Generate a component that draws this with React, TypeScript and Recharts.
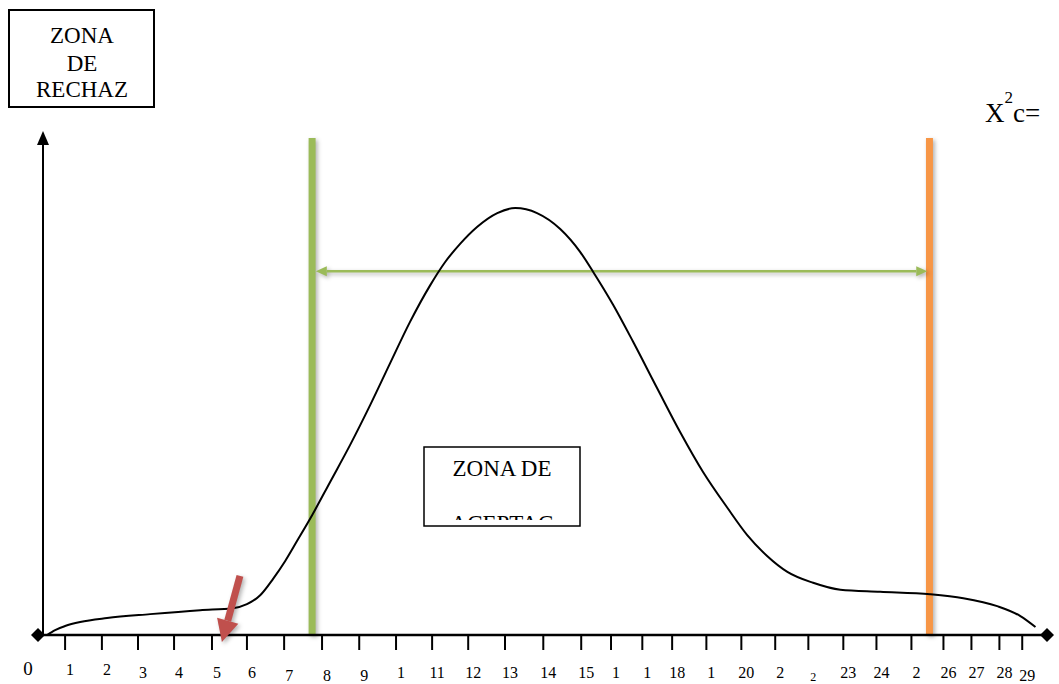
import { ComposedChart, Line, XAxis, YAxis, ReferenceLine } from "recharts";

// Chi-square sketch: position on the axis vs. relative height (0-100)
const CURVE_X = [
  0.11, 0.33, 0.6, 1.01, 1.74, 2.91, 4.27, 5.16, 5.54, 5.9, 6.25, 6.58, 6.9, 7.31, 7.8, 8.34,
  8.89, 9.43, 9.97, 10.52, 10.92, 11.33, 11.79, 12.34, 12.83, 13.42, 14.05, 14.59, 14.95,
  15.49, 16.03, 16.68, 17.31, 17.93, 18.59, 19.13, 19.67, 20.22, 20.92, 21.66, 22.74, 24.1,
  25.0, 25.92, 26.55, 26.96,
];
const CURVE_Y = [
  0, 1.0, 1.8, 2.6, 3.4, 4.2, 5.0, 5.4, 6.2, 8.0, 11.3, 14.9, 18.9, 24.1, 30.8, 38.2,
  46.3, 54.7, 63.0, 70.4, 75.0, 78.7, 82.1, 84.9, 85.9, 84.9, 81.7, 77.1, 73.0,
  66.4, 59.0, 49.7, 40.8, 32.8, 25.6, 20.1, 15.9, 12.7, 10.5, 9.1, 8.7, 8.2,
  7.4, 5.8, 3.8, 1.6,
];

// hand-placed tick marks along the axis and the labels printed under them
const TICKS = [
  0.6, 1.6, 2.58, 3.56, 4.59, 5.54, 6.55, 7.58, 8.59, 9.59, 10.57, 11.55, 12.55, 13.59, 14.62,
  15.43, 16.28, 17.09, 18.02, 18.97, 19.89, 20.79, 21.74, 22.64, 23.59, 24.46, 25.22, 25.98, 26.6,
];
const TICK_LABELS = [
  "1", "2", "3", "4", "5", "6", "7", "8", "9", "1", "11", "12", "13", "14", "15",
  "1", "1", "18", "1", "20", "2", "2", "23", "24", "2", "26", "27", "28", "29",
];

// critical values and the acceptance arrow
const LOWER_CRIT = 7.31;
const UPPER_CRIT = 24.08;
const ARROW_LEVEL = 73.2;
const ARROW_FROM = 7.41;
const ARROW_TO = 24.02;
// red pointer to the computed statistic
const POINTER_START = { x: 5.35, y: 11.9 };
const POINTER_TIP = { x: 4.86, y: -1.4 };

const X_MAX = 27.3;
const SERIF = '"Liberation Serif", "Times New Roman", serif';
const GREEN = "#9BBB59";
const ORANGE = "#F79646";
const RED = "#C0504D";
const SHADOW = "drop-shadow(2px 2px 2px rgba(0,0,0,0.3))";

const data = CURVE_X.map((x, i) => ({ x, y: CURVE_Y[i] }));

function TickLabel({ x, y, index }: any) {
  let drop = 0;
  let size = 16;
  if (index <= 1) drop = -3;
  if ([6, 7, 8, 28].includes(index)) drop = 3;
  if (index === 21) {
    drop = 3;
    size = 12;
  }
  return (
    <text
      x={x + 5}
      y={y + 26 + drop}
      textAnchor="middle"
      fontSize={size}
      fill="#000"
      style={{ fontFamily: SERIF }}
    >
      {TICK_LABELS[index]}
    </text>
  );
}

function Bar({ x1, y1, x2, y2, color }: any) {
  return <line x1={x1} y1={y1} x2={x2} y2={y2} stroke={color} strokeWidth={7} style={{ filter: SHADOW }} />;
}

function DoubleArrow({ x1, y1, x2 }: any) {
  const left = Math.min(x1, x2);
  const right = Math.max(x1, x2);
  const head = 11;
  const half = 5;
  return (
    <g style={{ filter: SHADOW }} fill={GREEN}>
      <line x1={left + head} y1={y1} x2={right - head} y2={y1} stroke={GREEN} strokeWidth={2.5} />
      <polygon points={`${left},${y1} ${left + head},${y1 - half} ${left + head},${y1 + half}`} />
      <polygon points={`${right},${y1} ${right - head},${y1 - half} ${right - head},${y1 + half}`} />
    </g>
  );
}

function YAxisArrow({ x1, y1, y2 }: any) {
  const top = Math.min(y1, y2);
  const bottom = Math.max(y1, y2);
  return (
    <g>
      <line x1={x1} y1={bottom} x2={x1} y2={top + 4} stroke="#000" strokeWidth={2} />
      <polygon points={`${x1},${top - 7} ${x1 - 6},${top + 7} ${x1 + 6},${top + 7}`} fill="#000" />
    </g>
  );
}

function XAxisLine({ x1, x2, y1 }: any) {
  const left = Math.min(x1, x2) - 5;
  const right = Math.max(x1, x2) - 1;
  const d = 7;
  const diamond = (cx: number) => `${cx},${y1 - d} ${cx + d},${y1} ${cx},${y1 + d} ${cx - d},${y1}`;
  return (
    <g>
      <line x1={left} y1={y1} x2={right} y2={y1} stroke="#000" strokeWidth={2.5} />
      <polygon points={diamond(left)} fill="#000" />
      <polygon points={diamond(right)} fill="#000" />
    </g>
  );
}

function Pointer({ x1, y1, x2, y2 }: any) {
  const dx = x2 - x1;
  const dy = y2 - y1;
  const len = Math.hypot(dx, dy);
  const ux = dx / len;
  const uy = dy / len;
  const head = 22;
  const half = 11;
  const bx = x2 - ux * head;
  const by = y2 - uy * head;
  return (
    <g style={{ filter: SHADOW }} fill={RED}>
      <line x1={x1} y1={y1} x2={bx} y2={by} stroke={RED} strokeWidth={7} />
      <polygon
        points={`${x2},${y2} ${bx - uy * half},${by + ux * half} ${bx + uy * half},${by - ux * half}`}
      />
    </g>
  );
}

export default function App() {
  return (
    <div style={{ position: "absolute", left: 0, top: 0, width: 1059, height: 684, background: "#fff" }}>
      <ComposedChart width={1059} height={684} data={data} margin={{ top: 138, right: 11, bottom: 0, left: 43 }}>
        <XAxis
          dataKey="x"
          type="number"
          domain={[0, X_MAX]}
          ticks={TICKS}
          interval={0}
          axisLine={false}
          tickLine={{ stroke: "#000", strokeWidth: 2 }}
          tickSize={15}
          height={49}
          tick={(p: any) => <TickLabel {...p} />}
        />
        <YAxis type="number" domain={[0, 100]} hide />
        <ReferenceLine x={LOWER_CRIT} shape={(p: any) => <Bar {...p} color={GREEN} />} />
        <ReferenceLine x={UPPER_CRIT} shape={(p: any) => <Bar {...p} color={ORANGE} />} />
        <ReferenceLine
          segment={[{ x: ARROW_FROM, y: ARROW_LEVEL }, { x: ARROW_TO, y: ARROW_LEVEL }]}
          shape={(p: any) => <DoubleArrow {...p} />}
        />
        <Line
          dataKey="y"
          type="monotone"
          stroke="#000"
          strokeWidth={2}
          dot={false}
          activeDot={false}
          isAnimationActive={false}
        />
        <ReferenceLine x={0} shape={(p: any) => <YAxisArrow {...p} />} />
        <ReferenceLine y={0} shape={(p: any) => <XAxisLine {...p} />} />
        <ReferenceLine
          segment={[POINTER_START, POINTER_TIP]}
          ifOverflow="visible"
          shape={(p: any) => <Pointer {...p} />}
        />
      </ComposedChart>

      <svg
        width={1059}
        height={684}
        style={{ position: "absolute", left: 0, top: 0, pointerEvents: "none", fontFamily: SERIF }}
      >
        <defs>
          <clipPath id="accept-clip">
            <rect x={424} y={447} width={156} height={73} />
          </clipPath>
        </defs>

        <rect x={9} y={10} width={145} height={97} fill="#fff" stroke="#000" strokeWidth={2} />
        <text x={82} y={43} textAnchor="middle" fontSize={23} style={{ fontFamily: SERIF }}>ZONA</text>
        <text x={82} y={71} textAnchor="middle" fontSize={23} style={{ fontFamily: SERIF }}>DE</text>
        <text x={82} y={97} textAnchor="middle" fontSize={23} style={{ fontFamily: SERIF }}>RECHAZ</text>

        <text x={985} y={122} fontSize={27} style={{ fontFamily: SERIF }}>
          X<tspan dy={-19} fontSize={17}>2</tspan>
          <tspan dy={19} fontSize={27}>c=</tspan>
        </text>

        <rect x={424} y={447} width={156} height={79} fill="#fff" stroke="#000" strokeWidth={1.5} />
        <g clipPath="url(#accept-clip)">
          <text x={502} y={476} textAnchor="middle" fontSize={23} style={{ fontFamily: SERIF }}>ZONA DE</text>
          <text x={502} y={531} textAnchor="middle" fontSize={23} style={{ fontFamily: SERIF }}>ACEPTAC</text>
        </g>

        <text x={28} y={675} textAnchor="middle" fontSize={19} style={{ fontFamily: SERIF }}>0</text>
      </svg>
    </div>
  );
}
